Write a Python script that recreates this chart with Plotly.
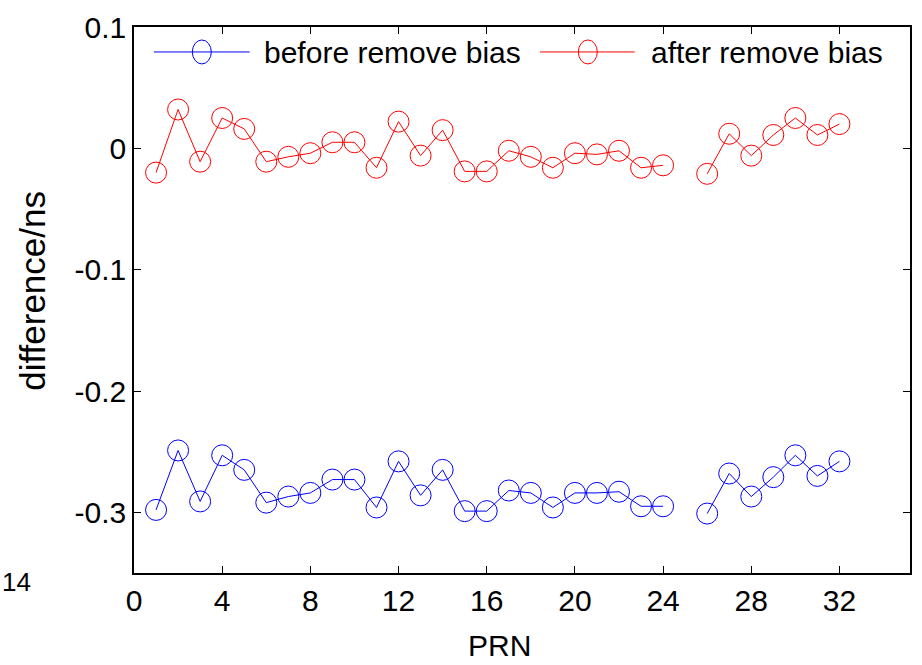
import plotly.graph_objects as go

prn = [1, 2, 3, 4, 5, 6, 7, 8, 9, 10, 11, 12, 13, 14, 15, 16, 17, 18, 19, 20,
       21, 22, 23, 24, 25, 26, 27, 28, 29, 30, 31, 32]
before_bias = [-0.298, -0.249, -0.291, -0.253, -0.265, -0.292, -0.287, -0.284,
               -0.273, -0.273, -0.296, -0.258, -0.286, -0.265, -0.299, -0.299,
               -0.282, -0.284, -0.296, -0.284, -0.284, -0.283, -0.295, -0.295,
               None, -0.301, -0.268, -0.287, -0.271, -0.253, -0.270, -0.258]
after_bias = [-0.020, 0.032, -0.011, 0.025, 0.016, -0.011, -0.007, -0.004,
              0.005, 0.005, -0.016, 0.022, -0.006, 0.015, -0.019, -0.019,
              -0.002, -0.007, -0.016, -0.004, -0.005, -0.002, -0.016, -0.014,
              None, -0.021, 0.012, -0.006, 0.011, 0.025, 0.011, 0.020]
series_names = ["before remove bias", "after remove bias"]
series_colors = ["#0000FF", "#FF0000"]
x_ticks = [0, 4, 8, 12, 16, 20, 24, 28, 32]
y_ticks = [-0.3, -0.2, -0.1, 0, 0.1]
y_ticktext = ["-0.3", "-0.2", "-0.1", "0", "0.1"]

FONT = "Liberation Sans, Arial, sans-serif"

fig = go.Figure()
for name, vals, col in zip(series_names, [before_bias, after_bias], series_colors):
    fig.add_trace(go.Scatter(
        x=prn, y=vals, mode="lines+markers", name=name,
        line=dict(color=col, width=1),
        marker=dict(symbol="circle-open", size=21, color=col, line=dict(width=1, color=col)),
        connectgaps=False, showlegend=False,
    ))

W, H = 922, 665
L, R, T, B = 134, 10, 26, 92
pw, ph = W - L - R, H - T - B

def px_x(p):
    return (p - L) / pw

def px_y(p):
    return 1 - (p - T) / ph

# manual legend (long line samples with elliptical markers, like the original)
legend_items = [(154, 250, 202, 262), (541, 636, 589, 650)]
for (x0, x1, xm, xt), name, col in zip(legend_items, series_names, series_colors):
    fig.add_shape(type="line", xref="paper", yref="paper",
                  x0=px_x(x0), x1=px_x(x1), y0=px_y(51), y1=px_y(51),
                  line=dict(color=col, width=1))
    fig.add_shape(type="circle", xref="paper", yref="paper",
                  x0=px_x(xm - 9.5), x1=px_x(xm + 9.5), y0=px_y(39), y1=px_y(63),
                  line=dict(color=col, width=1))
    fig.add_annotation(text=name, xref="paper", yref="paper", x=px_x(xt), y=px_y(52),
                       xanchor="left", yanchor="middle", showarrow=False,
                       font=dict(family=FONT, size=30, color="black"))

# axis titles
fig.add_annotation(text="PRN", xref="paper", yref="paper", x=px_x(500), y=px_y(646),
                   xanchor="center", yanchor="middle", showarrow=False,
                   font=dict(family=FONT, size=30, color="black"))
fig.add_annotation(text="difference/ns", xref="paper", yref="paper", x=px_x(32), y=px_y(290),
                   xanchor="center", yanchor="middle", showarrow=False, textangle=-90,
                   font=dict(family=FONT, size=35, color="black"))
# cropped neighbour-figure text at the left edge
fig.add_annotation(text="14", xref="paper", yref="paper", x=px_x(0), y=px_y(582),
                   xanchor="left", yanchor="middle", showarrow=False,
                   font=dict(family=FONT, size=26, color="black"))

fig.update_layout(
    width=W, height=H,
    margin=dict(l=L, r=R, t=T, b=B),
    paper_bgcolor="white", plot_bgcolor="white",
    font=dict(family=FONT, size=30, color="black"),
    showlegend=False,
)
fig.update_xaxes(range=[0, 35.2], tickvals=x_ticks, ticks="inside", ticklen=7,
                 tickcolor="black", showline=True, linecolor="black", linewidth=1.5,
                 mirror="ticks", showgrid=False, zeroline=False,
                 tickfont=dict(family=FONT, size=30))
fig.update_yaxes(range=[-0.35, 0.1], tickvals=y_ticks, ticktext=y_ticktext,
                 ticks="inside", ticklen=7, tickcolor="black", showline=True,
                 linecolor="black", linewidth=1.5, mirror="ticks", showgrid=False,
                 zeroline=False, tickfont=dict(family=FONT, size=30))

fig.write_html("out.html")
